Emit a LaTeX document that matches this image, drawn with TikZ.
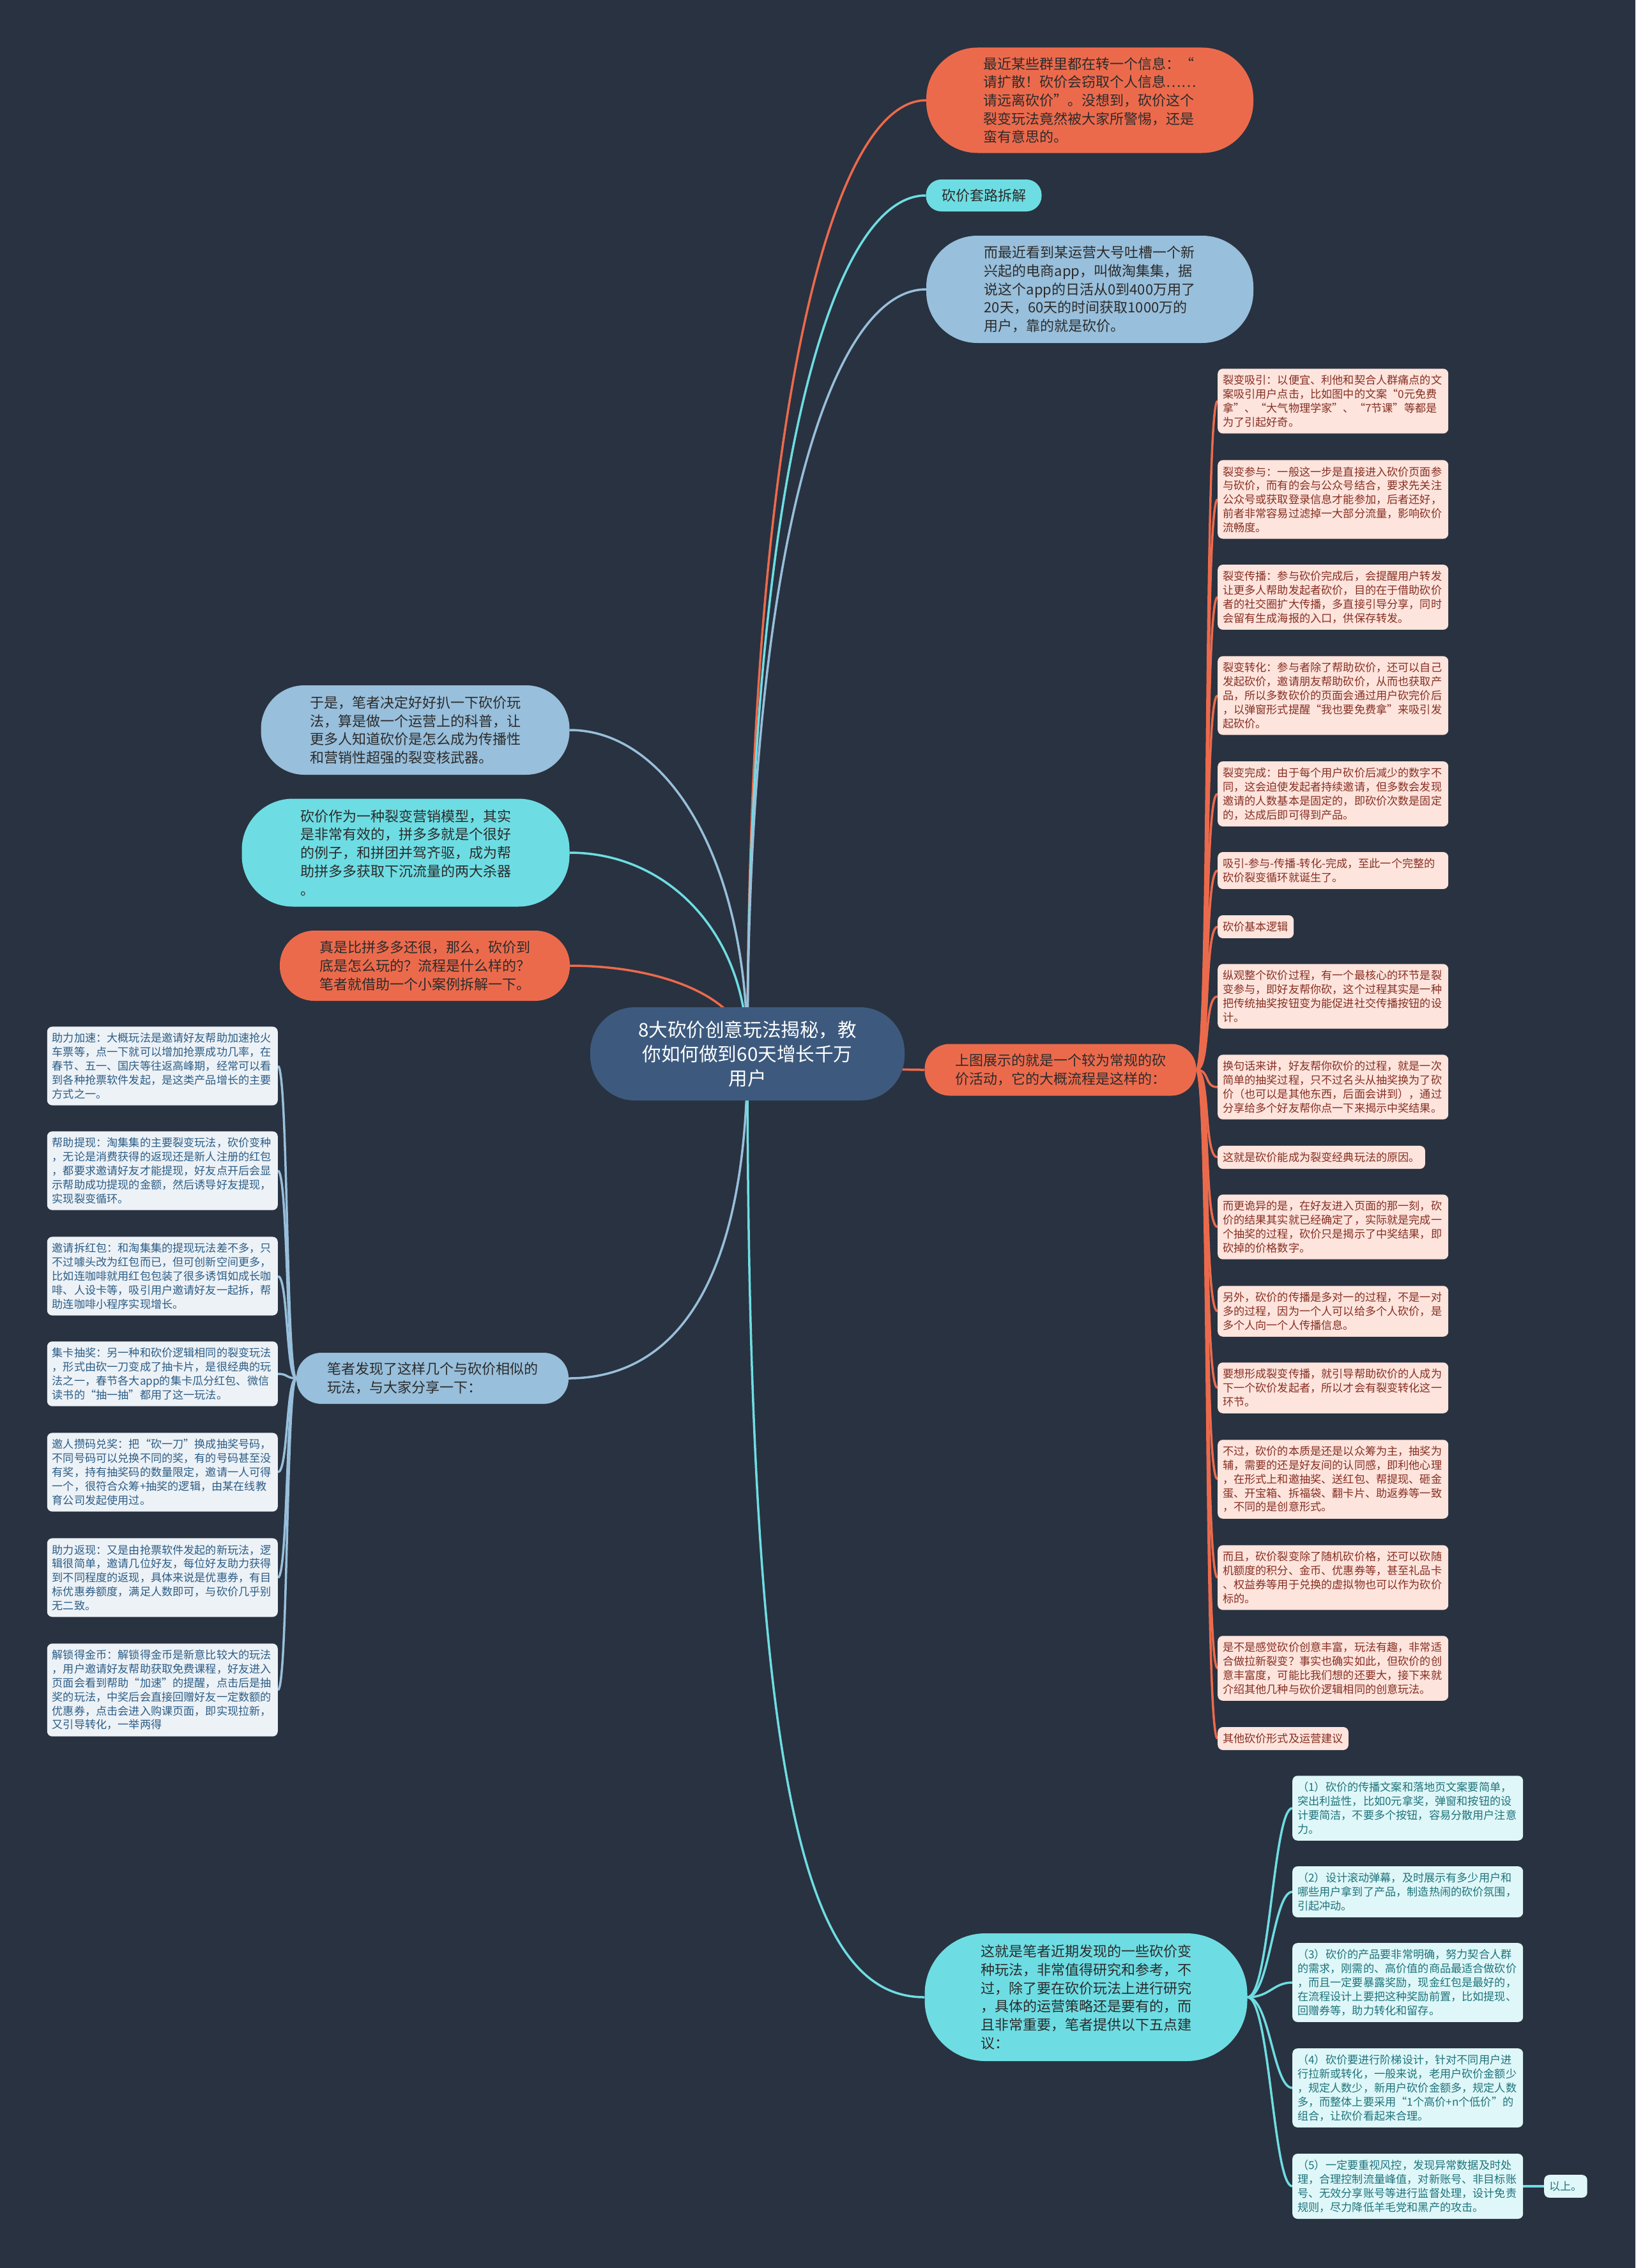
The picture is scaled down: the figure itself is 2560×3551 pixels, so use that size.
\documentclass[tikz,border=0pt]{standalone}
\usepackage{fontspec}
\setmainfont{Noto Sans CJK SC}
\usetikzlibrary{calc}
\exhyphenpenalty=10000
\hyphenpenalty=10000
\definecolor{bgc}{HTML}{293240}
\definecolor{navy}{HTML}{3D5A7E}
\definecolor{orng}{HTML}{EC6A4C}
\definecolor{cyn}{HTML}{6EDDE3}
\definecolor{lblu}{HTML}{98BFDB}
\definecolor{pinkf}{HTML}{FDE4DD}
\definecolor{pinkt}{HTML}{862F22}
\definecolor{leftf}{HTML}{EDF2F7}
\definecolor{leftt}{HTML}{2C5D85}
\definecolor{cyf}{HTML}{DFF7F8}
\definecolor{cyt}{HTML}{1E737C}
\definecolor{darkt}{HTML}{2B2B2B}
\pgfdeclarelayer{back}
\pgfdeclarelayer{links}
\pgfsetlayers{back,links,main}
\tikzset{
  bignode/.style={align=left, font=\fontsize{22}{28.7}\selectfont, text=darkt, inner sep=0pt},
  orbig/.style={bignode, fill=orng},
  cybig/.style={bignode, fill=cyn},
  blbig/.style={bignode, fill=lblu},
  rootnode/.style={align=center, font=\fontsize{29.6}{38}\selectfont, text=white, fill=navy, inner sep=0pt},
  smallbox/.style={rounded corners=8pt, font=\fontsize{17.15}{21.8}\selectfont, inner xsep=8pt, inner ysep=10pt, align=left},
  pbox/.style={smallbox, fill=pinkf, text=pinkt},
  pfull/.style={pbox, text width=345pt},
  lfull/.style={smallbox, fill=leftf, text=leftt, text width=345pt},
  cfull/.style={smallbox, fill=cyf, text=cyt, text width=345pt},
  cshort/.style={smallbox, fill=cyf, text=cyt},
  linkbase/.style={line width=3.5pt},
  olink/.style={linkbase, draw=orng},
  clink/.style={linkbase, draw=cyn},
  blink/.style={linkbase, draw=lblu}
}
\newcommand\vlink[5]{\draw[#1] (#2) .. controls ($(#2)!#4!(#2 |- #3)$) and ($(#2 |- #3)!#5!(#3)$) .. (#3);}
\newcommand\rlink[3]{\draw[#1] (#2) .. controls +(22,0) and +(-22,0) .. (#3);}
\newcommand\llink[3]{\draw[#1] (#2) .. controls +(-16,0) and +(16,0) .. (#3);}
\begin{document}
\begin{tikzpicture}[x=1pt,y=-1pt]
\useasboundingbox (0,0) rectangle (2560,3551);
\begin{pgfonlayer}{back}
\fill[bgc] (0,0) rectangle (2560,3551);
\end{pgfonlayer}

% root
\node[rootnode, minimum width=492pt, minimum height=146pt, rounded corners=70pt] (c) at (1170,1650) {8大砍价创意玩法揭秘，教\\你如何做到60天增长千万\\用户};

% top right
\node[orbig, minimum width=512pt, minimum height=165pt, rounded corners=80pt] (t1) at (1706,157) {最近某些群里都在转一个信息：“\\请扩散！砍价会窃取个人信息……\\请远离砍价”。没想到，砍价这个\\裂变玩法竟然被大家所警惕，还是\\蛮有意思的。};
\node[cybig, minimum width=181pt, minimum height=50pt, rounded corners=24pt] (t2) at (1540,306) {砍价套路拆解};
\node[blbig, minimum width=512pt, minimum height=168pt, rounded corners=80pt] (t3) at (1706,453) {而最近看到某运营大号吐槽一个新\\兴起的电商app，叫做淘集集，据\\说这个app的日活从0到400万用了\\20天，60天的时间获取1000万的\\用户，靠的就是砍价。};

% left
\node[blbig, minimum width=483pt, minimum height=140pt, rounded corners=68pt] (l1) at (650,1143) {于是，笔者决定好好扒一下砍价玩\\法，算是做一个运营上的科普，让\\更多人知道砍价是怎么成为传播性\\和营销性超强的裂变核武器。};
\node[cybig, minimum width=513pt, minimum height=169pt, rounded corners=80pt] (l2) at (635,1335) {砍价作为一种裂变营销模型，其实\\是非常有效的，拼多多就是个很好\\的例子，和拼团并驾齐驱，成为帮\\助拼多多获取下沉流量的两大杀器\\。};
\node[orbig, minimum width=454pt, minimum height=110pt, rounded corners=54pt] (l3) at (665,1512) {真是比拼多多还很，那么，砍价到\\底是怎么玩的？流程是什么样的？\\笔者就借助一个小案例拆解一下。};
\node[blbig, minimum width=426pt, minimum height=80pt, rounded corners=39pt] (l4) at (677,2158) {笔者发现了这样几个与砍价相似的\\玩法，与大家分享一下：};

% right orange
\node[orbig, minimum width=425pt, minimum height=81pt, rounded corners=39pt] (r) at (1660,1675) {上图展示的就是一个较为常规的砍\\价活动，它的大概流程是这样的：};

% bottom cyan
\node[cybig, minimum width=505pt, minimum height=200pt, rounded corners=95pt] (b) at (1700,3127) {这就是笔者近期发现的一些砍价变\\种玩法，非常值得研究和参考，不\\过，除了要在砍价玩法上进行研究\\，具体的运营策略还是要有的，而\\且非常重要，笔者提供以下五点建\\议：};

% pink boxes
\node[pfull, anchor=west] (p1) at (1906,628) {裂变吸引：以便宜、利他和契合人群痛点的文\\案吸引用户点击，比如图中的文案“0元免费\\拿”、“大气物理学家”、“7节课”等都是\\为了引起好奇。};
\node[pfull, anchor=west] (p2) at (1906,782) {裂变参与：一般这一步是直接进入砍价页面参\\与砍价，而有的会与公众号结合，要求先关注\\公众号或获取登录信息才能参加，后者还好，\\前者非常容易过滤掉一大部分流量，影响砍价\\流畅度。};
\node[pfull, anchor=west] (p3) at (1906,935) {裂变传播：参与砍价完成后，会提醒用户转发\\让更多人帮助发起者砍价，目的在于借助砍价\\者的社交圈扩大传播，多直接引导分享，同时\\会留有生成海报的入口，供保存转发。};
\node[pfull, anchor=west] (p4) at (1906,1089) {裂变转化：参与者除了帮助砍价，还可以自己\\发起砍价，邀请朋友帮助砍价，从而也获取产\\品，所以多数砍价的页面会通过用户砍完价后\\，以弹窗形式提醒“我也要免费拿”来吸引发\\起砍价。};
\node[pfull, anchor=west] (p5) at (1906,1243) {裂变完成：由于每个用户砍价后减少的数字不\\同，这会迫使发起者持续邀请，但多数会发现\\邀请的人数基本是固定的，即砍价次数是固定\\的，达成后即可得到产品。};
\node[pfull, anchor=west] (p6) at (1906,1363) {吸引-参与-传播-转化-完成，至此一个完整的\\砍价裂变循环就诞生了。};
\node[pbox, anchor=west] (p7) at (1906,1451) {砍价基本逻辑};
\node[pfull, anchor=west] (p8) at (1906,1560) {纵观整个砍价过程，有一个最核心的环节是裂\\变参与，即好友帮你砍，这个过程其实是一种\\把传统抽奖按钮变为能促进社交传播按钮的设\\计。};
\node[pfull, anchor=west] (p9) at (1906,1702) {换句话来讲，好友帮你砍价的过程，就是一次\\简单的抽奖过程，只不过名头从抽奖换为了砍\\价（也可以是其他东西，后面会讲到），通过\\分享给多个好友帮你点一下来揭示中奖结果。};
\node[pbox, anchor=west] (p10) at (1906,1812) {这就是砍价能成为裂变经典玩法的原因。};
\node[pfull, anchor=west] (p11) at (1906,1921) {而更诡异的是，在好友进入页面的那一刻，砍\\价的结果其实就已经确定了，实际就是完成一\\个抽奖的过程，砍价只是揭示了中奖结果，即\\砍掉的价格数字。};
\node[pfull, anchor=west] (p12) at (1906,2053) {另外，砍价的传播是多对一的过程，不是一对\\多的过程，因为一个人可以给多个人砍价，是\\多个人向一个人传播信息。};
\node[pfull, anchor=west] (p13) at (1906,2173) {要想形成裂变传播，就引导帮助砍价的人成为\\下一个砍价发起者，所以才会有裂变转化这一\\环节。};
\node[pfull, anchor=west] (p14) at (1906,2316) {不过，砍价的本质是还是以众筹为主，抽奖为\\辅，需要的还是好友间的认同感，即利他心理\\，在形式上和邀抽奖、送红包、帮提现、砸金\\蛋、开宝箱、拆福袋、翻卡片、助返券等一致\\，不同的是创意形式。};
\node[pfull, anchor=west] (p15) at (1906,2470) {而且，砍价裂变除了随机砍价格，还可以砍随\\机额度的积分、金币、优惠券等，甚至礼品卡\\、权益券等用于兑换的虚拟物也可以作为砍价\\标的。};
\node[pfull, anchor=west] (p16) at (1906,2612) {是不是感觉砍价创意丰富，玩法有趣，非常适\\合做拉新裂变？事实也确实如此，但砍价的创\\意丰富度，可能比我们想的还要大，接下来就\\介绍其他几种与砍价逻辑相同的创意玩法。};
\node[pbox, anchor=west] (p17) at (1906,2722) {其他砍价形式及运营建议};

% left boxes
\node[lfull, anchor=east] (a1) at (435,1669) {助力加速：大概玩法是邀请好友帮助加速抢火\\车票等，点一下就可以增加抢票成功几率，在\\春节、五一、国庆等往返高峰期，经常可以看\\到各种抢票软件发起，是这类产品增长的主要\\方式之一。};
\node[lfull, anchor=east] (a2) at (435,1833) {帮助提现：淘集集的主要裂变玩法，砍价变种\\，无论是消费获得的返现还是新人注册的红包\\，都要求邀请好友才能提现，好友点开后会显\\示帮助成功提现的金额，然后诱导好友提现，\\实现裂变循环。};
\node[lfull, anchor=east] (a3) at (435,1998) {邀请拆红包：和淘集集的提现玩法差不多，只\\不过噱头改为红包而已，但可创新空间更多，\\比如连咖啡就用红包包装了很多诱饵如成长咖\\啡、人设卡等，吸引用户邀请好友一起拆，帮\\助连咖啡小程序实现增长。};
\node[lfull, anchor=east] (a4) at (435,2151) {集卡抽奖：另一种和砍价逻辑相同的裂变玩法\\，形式由砍一刀变成了抽卡片，是很经典的玩\\法之一，春节各大app的集卡瓜分红包、微信\\读书的“抽一抽”都用了这一玩法。};
\node[lfull, anchor=east] (a5) at (435,2305) {邀人攒码兑奖：把“砍一刀”换成抽奖号码，\\不同号码可以兑换不同的奖，有的号码甚至没\\有奖，持有抽奖码的数量限定，邀请一人可得\\一个，很符合众筹+抽奖的逻辑，由某在线教\\育公司发起使用过。};
\node[lfull, anchor=east] (a6) at (435,2470) {助力返现：又是由抢票软件发起的新玩法，逻\\辑很简单，邀请几位好友，每位好友助力获得\\到不同程度的返现，具体来说是优惠券，有目\\标优惠券额度，满足人数即可，与砍价几乎别\\无二致。};
\node[lfull, anchor=east] (a7) at (435,2646) {解锁得金币：解锁得金币是新意比较大的玩法\\，用户邀请好友帮助获取免费课程，好友进入\\页面会看到帮助“加速”的提醒，点击后是抽\\奖的玩法，中奖后会直接回赠好友一定数额的\\优惠券，点击会进入购课页面，即实现拉新，\\又引导转化，一举两得};

% bottom right boxes
\node[cfull, anchor=west] (s1) at (2023,2831) {（1）砍价的传播文案和落地页文案要简单，\\突出利益性，比如0元拿奖，弹窗和按钮的设\\计要简洁，不要多个按钮，容易分散用户注意\\力。};
\node[cfull, anchor=west] (s2) at (2023,2962) {（2）设计滚动弹幕，及时展示有多少用户和\\哪些用户拿到了产品，制造热闹的砍价氛围，\\引起冲动。};
\node[cfull, anchor=west] (s3) at (2023,3104) {（3）砍价的产品要非常明确，努力契合人群\\的需求，刚需的、高价值的商品最适合做砍价\\，而且一定要暴露奖励，现金红包是最好的，\\在流程设计上要把这种奖励前置，比如提现、\\回赠券等，助力转化和留存。};
\node[cfull, anchor=west] (s4) at (2023,3269) {（4）砍价要进行阶梯设计，针对不同用户进\\行拉新或转化，一般来说，老用户砍价金额少\\，规定人数少，新用户砍价金额多，规定人数\\多，而整体上要采用“1个高价+n个低价”的\\组合，让砍价看起来合理。};
\node[cfull, anchor=west] (s5) at (2023,3423) {（5）一定要重视风控，发现异常数据及时处\\理，合理控制流量峰值，对新账号、非目标账\\号、无效分享账号等进行监督处理，设计免责\\规则，尽力降低羊毛党和黑产的攻击。};
\node[cshort, anchor=west] (s6) at (2417,3423) {以上。};

\begin{pgfonlayer}{links}
\vlink{olink}{c.center}{t1.west}{0.65}{0.45}
\vlink{clink}{c.center}{t2.west}{0.65}{0.45}
\vlink{blink}{c.center}{t3.west}{0.65}{0.45}
\vlink{blink}{c.center}{l1.east}{0.6}{0.45}
\vlink{clink}{c.center}{l2.east}{0.6}{0.45}
\vlink{olink}{c.center}{l3.east}{0.6}{0.45}
\vlink{blink}{c.center}{l4.east}{0.7}{0.4}
\vlink{clink}{c.center}{b.west}{0.8}{0.35}
\draw[olink] (c.center) .. controls +(140,0) and +(-140,0) .. (r.west);
\foreach \p in {p1,p2,p3,p4,p5,p6,p7,p8,p9,p10,p11,p12,p13,p14,p15,p16,p17}{\rlink{olink}{r.east}{\p.west}}
\foreach \p in {a1,a2,a3,a4,a5,a6,a7}{\llink{blink}{l4.west}{\p.east}}
\foreach \p in {s1,s2,s3,s4,s5}{\draw[clink] (b.east) .. controls +(35,0) and +(-30,0) .. (\p.west);}
\draw[clink] (s5.east) -- (s6.west);
\end{pgfonlayer}
\end{tikzpicture}
\end{document}
